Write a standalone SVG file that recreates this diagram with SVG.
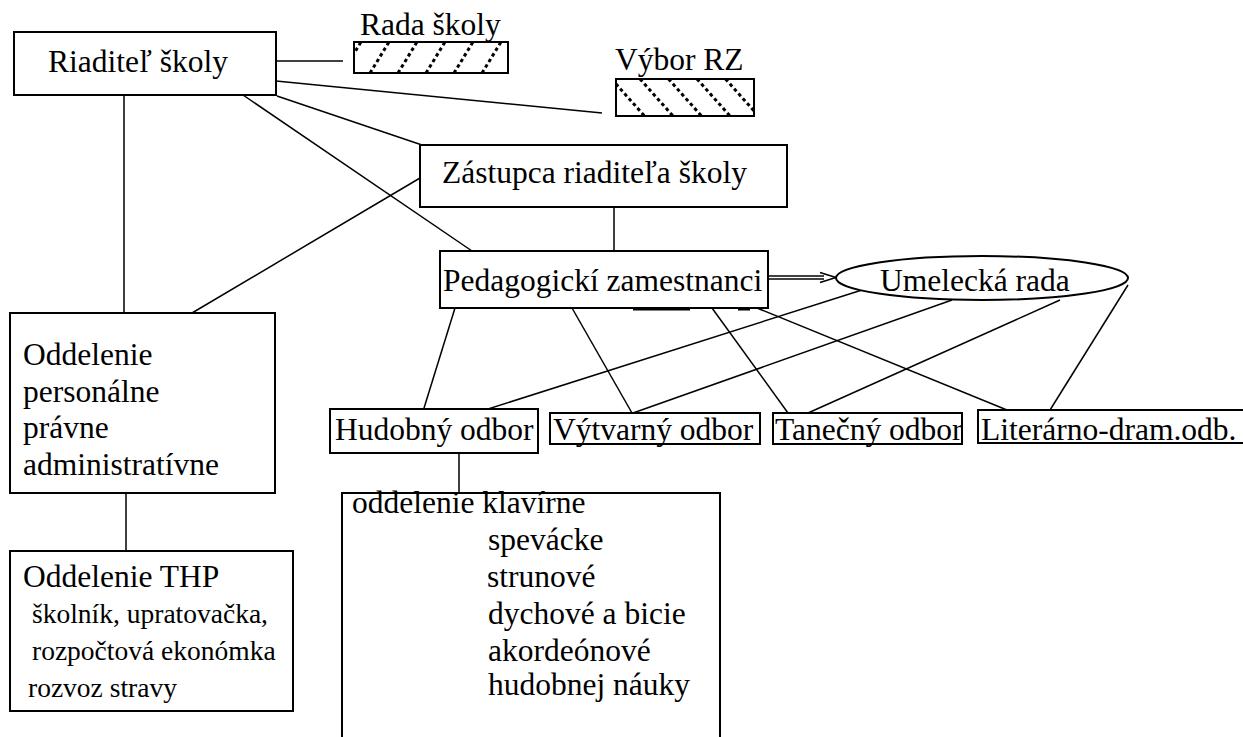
<svg xmlns="http://www.w3.org/2000/svg" width="1243" height="737" viewBox="0 0 1243 737">
<style>
.box{fill:#fff;stroke:#000;stroke-width:2}
.ln{stroke:#000;stroke-width:1.5;fill:none}
.hat{stroke:#000;stroke-width:3;stroke-dasharray:3.5 3;fill:none}
.t{font-size:31.5px;fill:#000}
.sm{font-size:27.5px}
</style>
<defs>
<clipPath id="cRada"><rect x="354" y="42" width="154" height="31"/></clipPath>
<clipPath id="cVybor"><rect x="616" y="79" width="138" height="37"/></clipPath>
</defs>
<rect width="1243" height="737" fill="#fff"/>
<g id="connectors">
<line class="ln" x1="276" y1="61" x2="343" y2="61"/>
<line class="ln" x1="276" y1="81" x2="602" y2="113"/>
<line class="ln" x1="277" y1="96" x2="422" y2="145"/>
<line class="ln" x1="243" y1="95" x2="472" y2="251"/>
<line class="ln" x1="124" y1="95" x2="124" y2="313"/>
<line class="ln" x1="420" y1="178" x2="192" y2="313"/>
<line class="ln" x1="614" y1="207" x2="614" y2="251"/>
<line class="ln" x1="126" y1="493" x2="126" y2="551"/>
<line class="ln" x1="768" y1="276" x2="824" y2="276"/>
<line class="ln" x1="768" y1="279" x2="824" y2="279"/>
<polyline class="ln" stroke-width="1.2" points="820,272.5 836,277.5 820,282.5"/>
<line x1="633" y1="309" x2="690" y2="309" stroke="#000" stroke-width="3"/>
<line x1="738" y1="309" x2="750" y2="309" stroke="#000" stroke-width="3"/>
<line class="ln" x1="455" y1="308" x2="420" y2="421"/>
<line class="ln" x1="572" y1="308" x2="632" y2="413"/>
<line class="ln" x1="712" y1="308" x2="788" y2="413"/>
<line class="ln" x1="757" y1="308" x2="1007" y2="410"/>
<line class="ln" x1="862" y1="290" x2="447" y2="422"/>
<line class="ln" x1="952" y1="300" x2="633" y2="413"/>
<line class="ln" x1="1060" y1="300" x2="808" y2="413"/>
<line class="ln" x1="1128" y1="285" x2="1050" y2="410"/>
<line class="ln" x1="459" y1="445" x2="459" y2="493"/>
</g>
<g font-family="'Liberation Serif', 'DejaVu Serif', serif">
<g id="riaditel">
<rect class="box" x="14" y="32" width="262" height="63"/>
<text class="t" x="48" y="72">Riaditeľ školy</text>
</g>
<g id="rada-skoly">
<text class="t" x="360" y="35">Rada školy</text>
<rect class="box" x="354" y="42" width="154" height="31"/>
<g clip-path="url(#cRada)">
<line class="hat" x1="314" y1="73" x2="333" y2="42"/>
<line class="hat" x1="342" y1="73" x2="361" y2="42"/>
<line class="hat" x1="370" y1="73" x2="389" y2="42"/>
<line class="hat" x1="398" y1="73" x2="417" y2="42"/>
<line class="hat" x1="426" y1="73" x2="445" y2="42"/>
<line class="hat" x1="454" y1="73" x2="473" y2="42"/>
<line class="hat" x1="482" y1="73" x2="501" y2="42"/>
<line class="hat" x1="510" y1="73" x2="529" y2="42"/>
</g>
</g>
<g id="vybor-rz">
<text class="t" x="615" y="70">Výbor RZ</text>
<rect class="box" x="616" y="79" width="138" height="37"/>
<g clip-path="url(#cVybor)">
<line class="hat" x1="583" y1="79" x2="616" y2="116"/>
<line class="hat" x1="611.5" y1="79" x2="644.5" y2="116"/>
<line class="hat" x1="640" y1="79" x2="673" y2="116"/>
<line class="hat" x1="668.5" y1="79" x2="701.5" y2="116"/>
<line class="hat" x1="697" y1="79" x2="730" y2="116"/>
<line class="hat" x1="725.5" y1="79" x2="758.5" y2="116"/>
</g>
</g>
<g id="zastupca">
<rect class="box" x="420" y="145" width="367" height="62"/>
<text class="t" x="442" y="183">Zástupca riaditeľa školy</text>
</g>
<g id="pedagogicki">
<rect class="box" x="440" y="251" width="328" height="57"/>
<text class="t" x="443" y="291">Pedagogickí zamestnanci</text>
</g>
<g id="umelecka-rada">
<ellipse cx="982" cy="278" rx="146" ry="22" fill="#fff" stroke="#000" stroke-width="2"/>
<text class="t" x="880" y="291">Umelecká rada</text>
</g>
<g id="hudobny">
<rect class="box" x="330" y="409" width="208" height="44"/>
<text class="t" x="335" y="440">Hudobný odbor</text>
</g>
<g id="vytvarny">
<rect class="box" x="550" y="413" width="210" height="31"/>
<text class="t" x="553" y="440">Výtvarný odbor</text>
</g>
<g id="tanecny">
<rect class="box" x="773" y="413" width="189" height="31"/>
<text class="t" x="775" y="440">Tanečný odbor</text>
</g>
<g id="literarno">
<rect class="box" x="978" y="410" width="280" height="33"/>
<text class="t" x="981" y="440">Literárno-dram.odb.</text>
</g>
<g id="oddelenie-hudobne">
<rect class="box" x="342" y="493" width="378" height="260"/>
<text class="t" x="352" y="513">oddelenie klavírne</text>
<text class="t" x="488" y="550">spevácke</text>
<text class="t" x="487" y="587">strunové</text>
<text class="t" x="488" y="624">dychové a bicie</text>
<text class="t" x="488" y="661">akordeónové</text>
<text class="t" x="488" y="695">hudobnej náuky</text>
</g>
<g id="oddelenie-personalne">
<rect class="box" x="10" y="313" width="265" height="180"/>
<text class="t" x="23" y="365">Oddelenie</text>
<text class="t" x="23" y="402">personálne</text>
<text class="t" x="23" y="438">právne</text>
<text class="t" x="23" y="475">administratívne</text>
</g>
<g id="oddelenie-thp">
<rect class="box" x="10" y="551" width="283" height="160"/>
<text class="t" x="23" y="587">Oddelenie THP</text>
<text class="t sm" x="32" y="623">školník, upratovačka,</text>
<text class="t sm" x="32" y="660">rozpočtová ekonómka</text>
<text class="t sm" x="28" y="697">rozvoz stravy</text>
</g>
</g>
</svg>
